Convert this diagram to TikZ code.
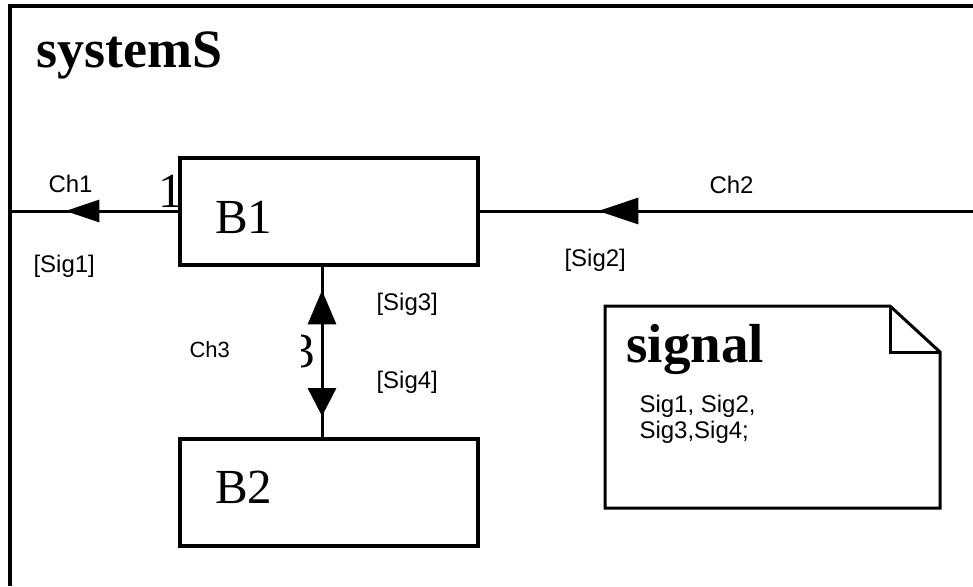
\documentclass[tikz,border=0pt]{standalone}
\usepackage{fontspec}
\setmainfont{Liberation Sans}
\newfontfamily\blockfont{Liberation Serif}
\usetikzlibrary{arrows.meta,decorations.markings}

\begin{document}
\begin{tikzpicture}[x=0.5pt,y=-0.5pt,line width=1.5pt,
		block/.style={draw,fill=white,line width=2pt,minimum height=53.5pt,
			inner xsep=17.5pt,text width=114pt,align=left,text depth=0pt,
			font=\blockfont\fontsize{24.5}{29}\selectfont},
		chan/.style 2 args={postaction={decorate},decoration={markings,
			mark=at position #1 with {\arrow{Triangle[length=#2,width=0.65*#2]}}}},
		chanboth/.style 2 args={postaction={decorate},decoration={markings,
			mark=at position #1 with {\arrowreversed{Triangle[length=17pt,width=14pt]}},
			mark=at position #2 with {\arrow{Triangle[length=14pt,width=14pt]}}}},
		lbl/.style={anchor=base west,inner sep=0pt,font=\fontsize{12}{14}\selectfont},
		gate/.style={anchor=base west,inner sep=0pt,font=\blockfont\fontsize{24.5}{29}\selectfont},
		title/.style={anchor=base west,inner sep=0pt,font=\blockfont\bfseries\fontsize{27}{32}\selectfont}]
	\useasboundingbox (0,0) rectangle (973,586);

	% system frame
	\draw[line width=1.6pt] (973,6) -- (10,6) -- (10,586);
	\node[title] (sysname) at (35,67) {systemS};

	% gate numbers, half hidden
	\node[gate] (g1) at (157,207) {1};
	\begin{scope}
		\clip (301,320) rectangle (330,380);
		\node[gate] (g3) at (289,367) {3};
	\end{scope}

	\node[block,text height=22.5pt] (B1) at (329,211) {B1};
	\node[block,text height=11pt]   (B2) at (329,492) {B2};

	\coordinate (left)  at (10,0);
	\coordinate (right) at (973,0);

	\path (B1.west) edge[chan={0.67}{17pt}] (B1.west -| left)
		(B1.east -| right) edge[chan={0.76}{20pt}] (B1.east)
		([xshift=-3.5pt]B1.south) edge[chanboth={0.14}{0.88}] ([xshift=-3.5pt]B2.north);

	\node[lbl] (ch1)  at (47,192)  {Ch1};
	\node[lbl] (sig1) at (32,272)  {[Sig1]};
	\node[lbl] (ch2)  at (708,193) {Ch2};
	\node[lbl] (sig2) at (563,266) {[Sig2]};
	\node[lbl,font=\fontsize{11}{13}\selectfont] (ch3) at (188,357) {Ch3};
	\node[lbl] (sig3) at (375,310) {[Sig3]};
	\node[lbl] (sig4) at (375,388) {[Sig4]};

	% signal note
	\draw (605,306) -- (890,306) -- (940,352) -- (940,508) -- (605,508) -- cycle;
	\draw (890,306) -- (890,352) -- (940,352);
	\node[title,font=\blockfont\bfseries\fontsize{27.5}{32}\selectfont] (signame) at (625,362) {signal};
	\node[lbl,align=left,anchor=north west,font=\fontsize{12}{13}\selectfont] (siglist) at (638,394)
		{Sig1, Sig2,\\Sig3,Sig4;};
\end{tikzpicture}
\end{document}
